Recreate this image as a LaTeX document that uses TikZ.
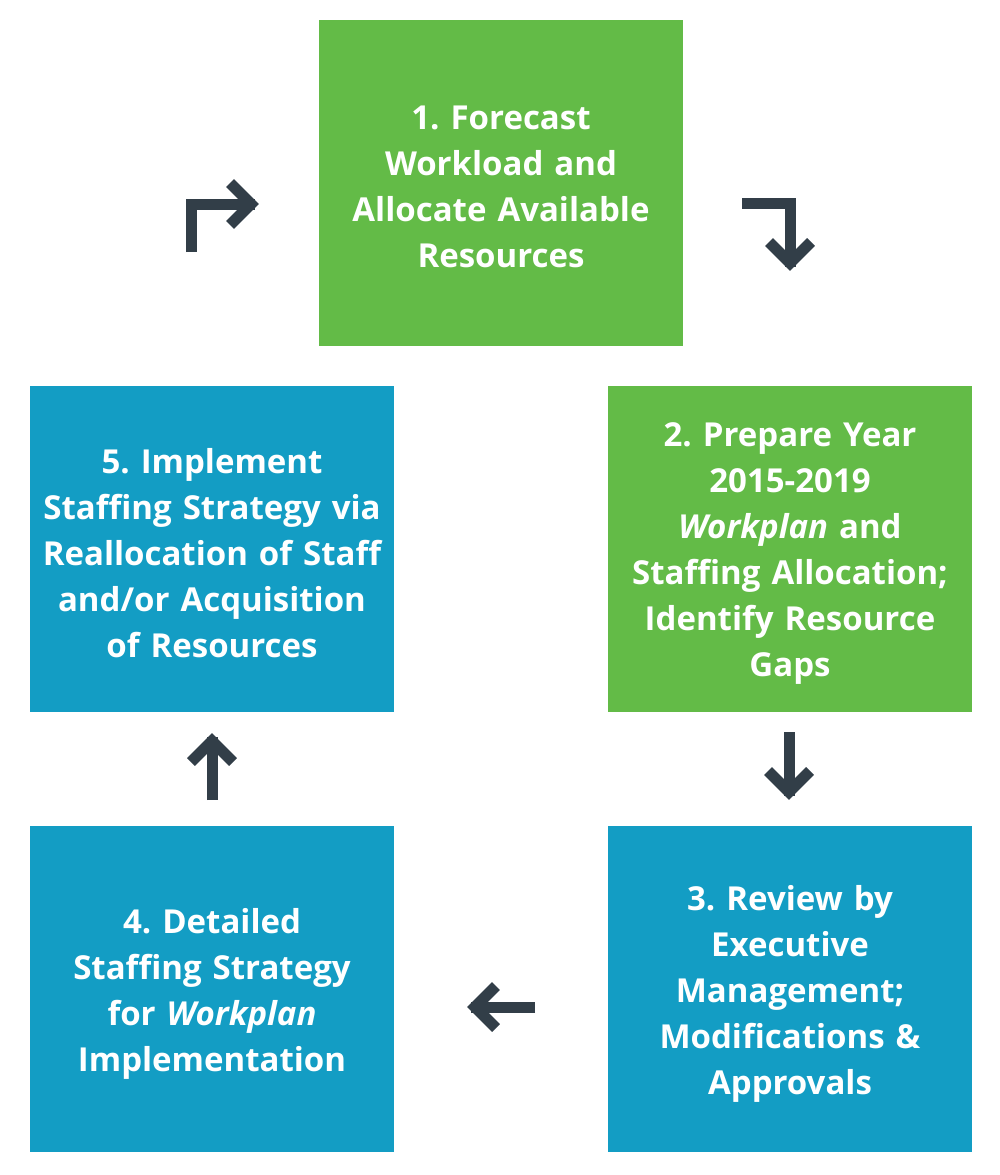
\documentclass[tikz,border=0pt]{standalone}
\usepackage{fontspec}
\setmainfont{Open Sans}[Ligatures={NoCommon}]
\definecolor{boxgreen}{HTML}{63BB47}
\definecolor{boxblue}{HTML}{139DC4}
\definecolor{arrowdark}{HTML}{323E48}
\frenchspacing
\begin{document}
\begin{tikzpicture}[x=1pt,y=-1pt,
  stepbox/.style={rectangle, inner sep=0pt, minimum width=364pt, minimum height=326pt},
  greenbox/.style={stepbox, fill=boxgreen},
  bluebox/.style={stepbox, fill=boxblue},
  steptext/.style={inner sep=0pt, text width=360pt, align=center, text=white,
    font=\fontsize{33}{46}\selectfont\bfseries},
  bar/.style={draw=arrowdark, line width=11pt, line cap=butt, line join=miter},
]
\useasboundingbox (0,0) rectangle (1000,1175);
\fill[white] (0,0) rectangle (1000,1175);

\node[greenbox] (b1) at (501,183) {};
\node[greenbox] (b2) at (790,549) {};
\node[bluebox] (b3) at (790,989) {};
\node[bluebox] (b4) at (212,989) {};
\node[bluebox] (b5) at (212,549) {};

\node[steptext] (t1) at ([yshift=-4pt]b1.center) {1. Forecast\\Workload and\\Allocate Available\\Resources};
\node[steptext] (t2) at ([yshift=-5pt]b2.center) {2. Prepare Year\\2015-2019\\\textit{Workplan} and\\Staffing Allocation;\\Identify Resource\\Gaps};
\node[steptext] (t3) at ([yshift=-5pt]b3.center) {3. Review by\\Executive\\Management;\\Modifications \&\\Approvals};
\node[steptext] (t4) at ([yshift=-5pt]b4.center) {4. Detailed\\Staffing Strategy\\for \textit{Workplan}\\Implementation};
\node[steptext] (t5) at ([yshift=-4pt]b5.center) {5. Implement\\Staffing Strategy via\\Reallocation of Staff\\and/or Acquisition\\of Resources};

% arrow 5 -> 1 (bent, pointing right)
\coordinate (a1s) at (191,252);
\coordinate (a1c) at (191,204);
\coordinate (a1t) at (251,204);
\draw[bar] (a1s) -- (a1c) -- ([xshift=4pt]a1t);
\draw[bar] ([xshift=-21pt,yshift=21pt]a1t) -- (a1t) -- ([xshift=-21pt,yshift=-21pt]a1t);

% arrow 1 -> 2 (bent, pointing down)
\coordinate (a2s) at (742,203);
\coordinate (a2c) at (790,203);
\coordinate (a2t) at (790,263);
\draw[bar] (a2s) -- (a2c) -- ([yshift=-4pt]a2t);
\draw[bar] ([xshift=-21pt,yshift=21pt]a2t) -- (a2t) -- ([xshift=21pt,yshift=21pt]a2t);

% arrow 2 -> 3 (down)
\coordinate (a3s) at (789,732);
\coordinate (a3t) at (789,792);
\draw[bar] (a3s) -- ([yshift=-4pt]a3t);
\draw[bar] ([xshift=-21pt,yshift=21pt]a3t) -- (a3t) -- ([xshift=21pt,yshift=21pt]a3t);

% arrow 3 -> 4 (left)
\coordinate (a4s) at (535,1007);
\coordinate (a4t) at (475,1007);
\draw[bar] (a4s) -- ([xshift=-4pt]a4t);
\draw[bar] ([xshift=21pt,yshift=21pt]a4t) -- (a4t) -- ([xshift=21pt,yshift=-21pt]a4t);

% arrow 4 -> 5 (up)
\coordinate (a5s) at (212,800);
\coordinate (a5t) at (212,741);
\draw[bar] (a5s) -- ([yshift=4pt]a5t);
\draw[bar] ([xshift=-21pt,yshift=-21pt]a5t) -- (a5t) -- ([xshift=21pt,yshift=-21pt]a5t);
\end{tikzpicture}
\end{document}
